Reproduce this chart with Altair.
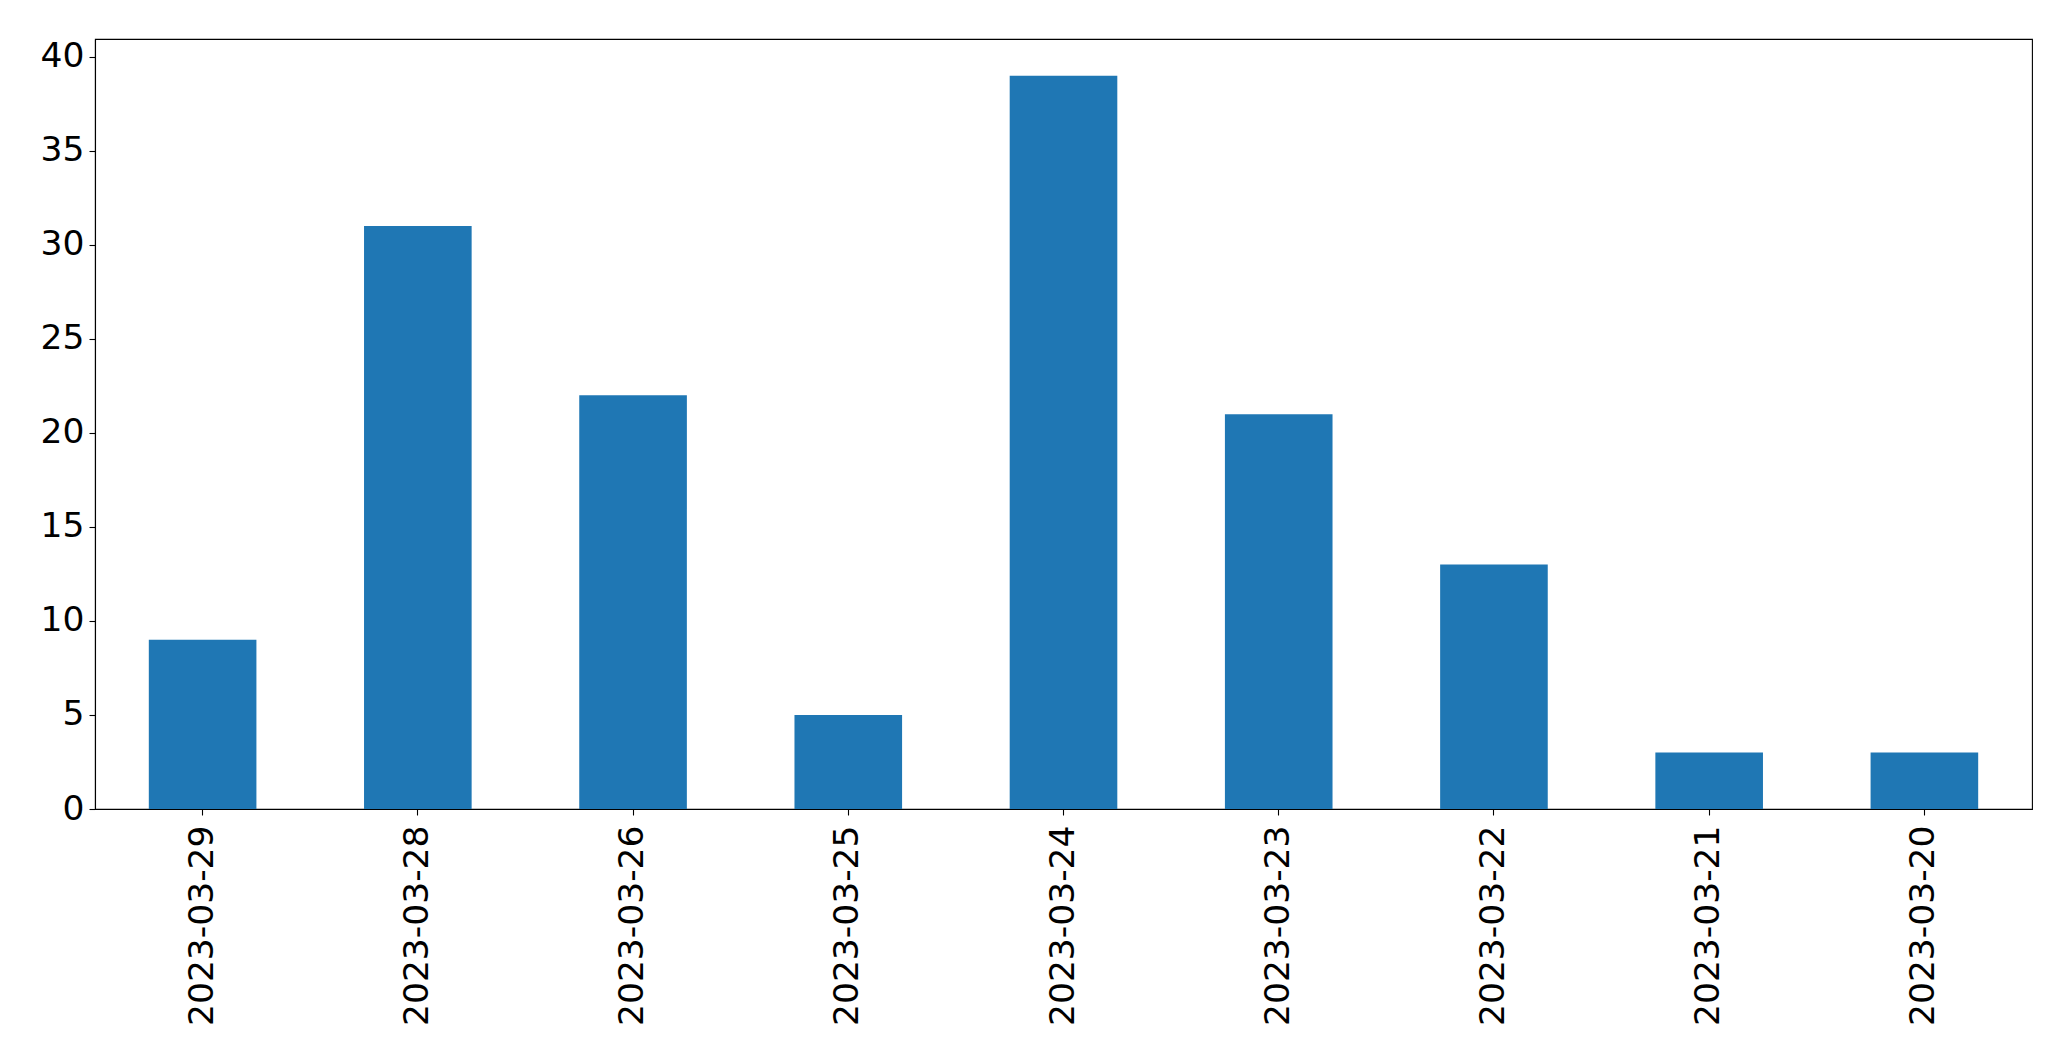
import altair as alt
import pandas as pd

dates = ["2023-03-29", "2023-03-28", "2023-03-26", "2023-03-25", "2023-03-24",
         "2023-03-23", "2023-03-22", "2023-03-21", "2023-03-20"]
counts = [9, 31, 22, 5, 39, 21, 13, 3, 3]
y_ticks = [0, 5, 10, 15, 20, 25, 30, 35, 40]

df = pd.DataFrame({"date": dates, "count": counts})

FONT = "DejaVu Sans"
FS = 34.5

chart = alt.Chart(df).mark_bar(color="#1f77b4").encode(
    x=alt.X("date:N", sort=None, title=None,
            scale=alt.Scale(paddingInner=0.5, paddingOuter=0.25),
            axis=alt.Axis(labelAngle=-90, labelFontSize=FS, labelFont=FONT,
                          labelColor="black", tickColor="black", tickSize=6,
                          tickWidth=1.1, domainColor="black", domainWidth=1.1,
                          labelPadding=10, labelLimit=0)),
    y=alt.Y("count:Q", title=None,
            scale=alt.Scale(domain=[0, 40.95], nice=False),
            axis=alt.Axis(values=y_ticks, grid=False, labelFontSize=FS,
                          labelFont=FONT, labelColor="black", tickColor="black",
                          tickSize=6, tickWidth=1.1, domainColor="black",
                          domainWidth=1.1, labelPadding=5)),
).properties(
    width=1937, height=770,
    autosize=alt.AutoSizeParams(type="none"),
    padding={"left": 87, "top": 31, "right": 30, "bottom": 240},
).configure_view(stroke="black", strokeWidth=1.1)

chart.save("out.html", embed_options={"renderer": "svg", "actions": False})
